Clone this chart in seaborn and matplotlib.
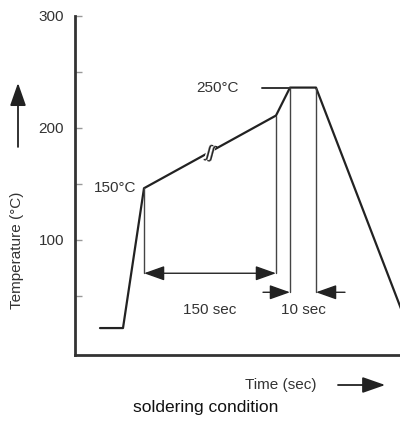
import pandas as pd
import seaborn as sns
import matplotlib.pyplot as plt
from matplotlib.patches import FancyArrowPatch

# reflow profile (time in arbitrary units, temperature in degC)
profile_time = [25, 48, 69, 201, 215, 241, 330]
profile_temp = [21, 21, 146, 211, 236, 236, 29]

ytick_values = [50, 100, 150, 200, 250, 300]
ytick_labels = ["", "100", "", "200", "", "300"]

preheat_start, preheat_end = 69, 201
peak_start, peak_end = 215, 241
preheat_temp, preheat_end_temp, peak_temp = 146, 211, 236
arrow_level_preheat = 70
arrow_level_peak = 53


def main():
    sns.set_style("white")
    plt.rcParams["font.family"] = ["Liberation Sans", "DejaVu Sans"]

    fig = plt.figure(figsize=(4.0, 4.21), dpi=100)
    ax = fig.add_axes([0.1875, 0.157, 0.8125, 0.805])

    data = pd.DataFrame({"time": profile_time, "temp": profile_temp})
    sns.lineplot(data=data, x="time", y="temp", sort=False, estimator=None,
                 color="#222222", linewidth=1.6, ax=ax)

    line_kw = dict(color="#444444", linewidth=1.0)
    ax.plot([preheat_start, preheat_start], [preheat_temp, arrow_level_preheat], **line_kw)
    ax.plot([preheat_end, preheat_end], [preheat_end_temp, arrow_level_preheat], **line_kw)
    ax.plot([peak_start, peak_start], [peak_temp, arrow_level_peak], **line_kw)
    ax.plot([peak_end, peak_end], [peak_temp, arrow_level_peak], **line_kw)
    ax.plot([187, peak_start], [peak_temp, peak_temp], color="#333333", linewidth=1.4)

    head = "-|>,head_length=0.9,head_width=0.32"
    arrow_kw = dict(arrowstyle=head, mutation_scale=14, color="#222222",
                    linewidth=1.0, shrinkA=0, shrinkB=0)
    ax.annotate("", xy=(preheat_start, arrow_level_preheat),
                xytext=(preheat_end, arrow_level_preheat),
                arrowprops=dict(arrowstyle="<|-|>,head_length=0.9,head_width=0.32",
                                mutation_scale=14, color="#222222", linewidth=1.0,
                                shrinkA=0, shrinkB=0))
    ax.annotate("", xy=(peak_start, arrow_level_peak),
                xytext=(188, arrow_level_peak), arrowprops=arrow_kw)
    ax.annotate("", xy=(peak_end, arrow_level_peak),
                xytext=(270, arrow_level_peak), arrowprops=arrow_kw)

    # break mark on the preheat ramp
    ax.text(135, 178, "ʃʃ", fontsize=13, color="#222222", rotation=-15,
            ha="center", va="center",
            bbox=dict(facecolor="white", edgecolor="none", pad=0.0))

    text_kw = dict(fontsize=11, color="#333333")
    ax.text(61, 146, "150°C", ha="right", va="center", **text_kw)
    ax.text(164, 236, "250°C", ha="right", va="center", **text_kw)
    ax.text(135, 37, "150 sec", ha="center", va="center", **text_kw)
    ax.text(228, 37, "10 sec", ha="center", va="center", **text_kw)

    ax.set_xlim(0, 325)
    ax.set_ylim(-3, 300)
    ax.set_xticks([])
    ax.set_yticks(ytick_values)
    ax.set_yticklabels(ytick_labels)
    ax.tick_params(axis="y", direction="in", length=5, width=1, color="#999999",
                   labelsize=11, labelcolor="#333333", pad=8, left=True)
    ax.set_xlabel("")
    ax.set_ylabel("")
    for side in ["top", "right"]:
        ax.spines[side].set_visible(False)
    for side in ["left", "bottom"]:
        ax.spines[side].set_color("#333333")
        ax.spines[side].set_linewidth(2.0)
    ax.grid(False)

    fig.text(0.0425, 0.406, "Temperature (°C)", rotation=90, ha="center",
             va="center", fontsize=11, color="#333333")
    fig.text(0.7025, 0.0855, "Time (sec)", ha="center", va="center",
             fontsize=11, color="#333333")
    fig.text(0.515, 0.031, "soldering condition", ha="center", va="center",
             fontsize=12.5, color="#111111")

    fig_arrow = dict(arrowstyle="-|>,head_length=1.0,head_width=0.35",
                     mutation_scale=14, color="#222222", linewidth=1.3,
                     shrinkA=0, shrinkB=0)
    fig.add_artist(FancyArrowPatch((0.845, 0.0855), (0.963, 0.0855),
                                   transform=fig.transFigure, **fig_arrow))
    fig.add_artist(FancyArrowPatch((0.045, 0.651), (0.045, 0.803),
                                   transform=fig.transFigure, **fig_arrow))

    plt.savefig("out.png", dpi=100)


if __name__ == "__main__":
    main()
